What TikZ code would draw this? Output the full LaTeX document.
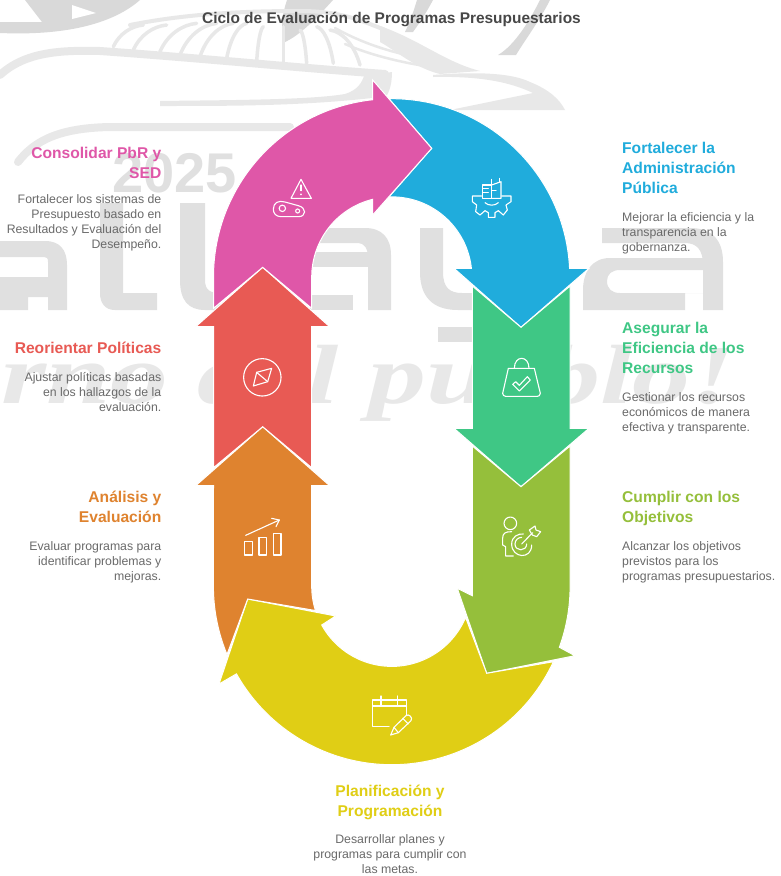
\documentclass[tikz,border=0pt]{standalone}
\usepackage{fontspec}
\setmainfont{Liberation Sans}
\newfontfamily\wmfont[FakeStretch=1.38]{Liberation Serif}
\definecolor{cpink}{HTML}{DF57A8}
\definecolor{cblue}{HTML}{20ACDC}
\definecolor{cgreen}{HTML}{3FC785}
\definecolor{clime}{HTML}{95BF3B}
\definecolor{cyel}{HTML}{E0CE15}
\definecolor{corg}{HTML}{DF832F}
\definecolor{cred}{HTML}{E85A54}
\definecolor{wma}{HTML}{D9D9D9}
\definecolor{wmb}{HTML}{E0E0E0}
\definecolor{wmc}{HTML}{E8E8E8}
\definecolor{deskc}{HTML}{6A6A6A}
\definecolor{titc}{HTML}{474747}
\tikzset{
 band/.style={draw=white,line width=1pt,line join=miter,miter limit=10},
 wmline/.style={draw=wmc,line cap=round},
 icon/.style={draw=white,line width=1.1pt,line cap=round,line join=round},
 zoomA/.style={shift={(190,70)},x=0.33333pt,y=-0.33333pt},
 zoomB/.style={shift={(190,420)},x=0.33333pt,y=-0.33333pt},
 zoomC/.style={shift={(0,140)},x=0.33333pt,y=-0.33333pt},
 zoomD/.style={shift={(380,200)},x=0.33333pt,y=-0.33333pt},
 zoomE/.style={shift={(0,0)},x=0.33333pt,y=-0.33333pt},
 headL/.style={anchor=north east,align=right,inner sep=0pt,font=\fontsize{15.6}{20}\selectfont\bfseries,execute at begin node={\rule{0pt}{14pt}}},
 headR/.style={anchor=north west,align=left,inner sep=0pt,font=\fontsize{15.6}{20}\selectfont\bfseries,execute at begin node={\rule{0pt}{14pt}}},
 headC/.style={anchor=north,align=center,inner sep=0pt,font=\fontsize{15.6}{20}\selectfont\bfseries,execute at begin node={\rule{0pt}{14pt}}},
 descL/.style={anchor=north east,align=right,inner sep=0pt,text=deskc,font=\fontsize{12.3}{15}\selectfont,execute at begin node={\rule{0pt}{11pt}}},
 descR/.style={anchor=north west,align=left,inner sep=0pt,text=deskc,font=\fontsize{12.3}{15}\selectfont,execute at begin node={\rule{0pt}{11pt}}},
 descC/.style={anchor=north,align=center,inner sep=0pt,text=deskc,font=\fontsize{12.3}{15}\selectfont,execute at begin node={\rule{0pt}{11pt}}},
}
\begin{document}
\begin{tikzpicture}[x=1pt,y=-1pt]
\useasboundingbox (0,0) rectangle (780,876);
\fill[white] (0,0) rectangle (780,876);
\begin{scope}
\clip (0,0) rectangle (780,876);
% --- watermark: bird
\fill[wma] (0,22) -- (42,22) -- (25,0) -- (140,0) .. controls (115,22) and (70,36) .. (0,33) -- cycle;
\fill[white] (72,5) -- (96,13) -- (72,19) -- cycle;
\fill[wma] (287,0) -- (333,0) .. controls (315,20) and (300,35) .. (285,42) .. controls (280,30) and (282,15) .. (287,0) -- cycle;
\fill[wma] (417,0) -- (433,0) .. controls (425,15) and (418,25) .. (413,32) -- (405,32) .. controls (410,22) and (414,10) .. (417,0) -- cycle;
\fill[wma] (540,0) -- (550,0) .. controls (540,20) and (525,40) .. (516,55) -- (498,55) .. controls (515,45) and (530,20) .. (540,0) -- cycle;
\draw[wmline,line width=8pt] (0,75) .. controls (25,52) and (60,50) .. (100,51) .. controls (200,58) and (300,68) .. (385,74);
\draw[wmline,line width=4pt] (130,25) .. controls (190,13) and (250,11) .. (300,11) .. controls (340,11) and (360,20) .. (385,30);
\begin{scope}[zoomE]
\foreach \xa/\ya/\xb/\yb in {340/140/430/75,400/150/500/75,480/155/590/70,540/165/650/70,600/170/700/70,680/175/740/70,770/185/790/80,850/190/850/80,920/190/900/90,1000/190/950/80,1080/195/990/90}{
 \draw[wmline,line width=3.5pt] (\xa,\ya) .. controls ({\xa+(\xb-\xa)*0.2},{\ya+(\yb-\ya)*0.6}) and ({\xa+(\xb-\xa)*0.6},{\ya+(\yb-\ya)*0.95}) .. (\xb,\yb);
}
\end{scope}
\draw[wmline,line width=2.5pt] (335,28) .. controls (365,45) and (400,55) .. (425,58);
\draw[wmline,line width=2.5pt] (345,44) .. controls (370,55) and (400,62) .. (425,66);
\fill[wmc] (380,26) .. controls (420,40) and (445,62) .. (480,71) -- (440,74) .. controls (415,68) and (395,50) .. (380,42) -- cycle;
\fill[wmc] (433,75) .. controls (470,72) and (510,72) .. (530,82) .. controls (550,90) and (560,100) .. (565,110) -- (450,110) -- (533,93) .. controls (510,82) and (480,76) .. (433,77) -- cycle;
\fill[wmc] (160,101) .. controls (230,100) and (310,100) .. (345,94) .. controls (358,90) and (362,82) .. (364,76) -- (392,72) .. controls (392,82) and (390,92) .. (385,98) -- (372,98) .. controls (300,106) and (230,106) .. (160,106) -- cycle;
\draw[wmline,line width=8pt] (18,162) .. controls (35,140) and (60,128) .. (110,127) -- (290,127);
% --- watermark: letters
\fill[wmb] (0,241) -- (45,241) .. controls (60,241) and (67,250) .. (67,265) -- (67,310) -- (48,310) -- (48,262) .. controls (48,258) and (47,257) .. (44,257) -- (0,257) -- cycle;
\fill[wmb] (0,277) -- (48,277) -- (48,297) -- (28,297) -- (28,310) -- (0,310) -- cycle;
\fill[wmb] (100,203) -- (123,203) -- (123,293) -- (157,293) -- (157,310) -- (115,310) .. controls (105,310) and (100,303) .. (100,293) -- cycle;
\fill[wmb] (180,203) -- (205,203) -- (205,280) .. controls (205,290) and (210,293) .. (220,293) -- (220,310) -- (205,310) .. controls (188,310) and (180,300) .. (180,280) -- cycle;
\fill[wmb] (315,228) -- (365,228) .. controls (382,228) and (391,238) .. (391,255) -- (391,310) -- (368,310) -- (368,258) .. controls (368,248) and (364,243) .. (358,243) -- (315,243) -- cycle;
\fill[wmb] (310,252) -- (368,252) -- (368,267) -- (310,267) -- cycle;
\fill[wmb] (310,295) -- (353,295) -- (353,310) -- (310,310) -- cycle;
\fill[wmb] (420,228) -- (443,228) -- (443,272) .. controls (443,288) and (450,293) .. (462,293) -- (480,293) -- (480,310) -- (458,310) .. controls (432,310) and (420,296) .. (420,272) -- cycle;
\fill[wmb] (438,327) -- (472,327) -- (472,342) -- (438,342) -- cycle;
\fill[wmb] (602,228) -- (690,228) .. controls (712,228) and (723,240) .. (723,262) -- (723,310) -- (703,310) -- (703,265) .. controls (703,250) and (697,243) .. (685,243) -- (602,243) -- cycle;
\fill[wmb,even odd rule] (703,258) -- (610,258) .. controls (592,258) and (583,272) .. (583,290) -- (583,310) -- (685,310) -- (685,293) -- (703,293) -- cycle (703,270) -- (620,270) .. controls (612,270) and (607,274) .. (607,281) .. controls (607,289) and (612,293) .. (620,293) -- (703,293) -- cycle;
\node[anchor=base west,inner sep=0pt,text=wmb,font={\fontsize{56}{56}\selectfont\bfseries}] (wmyear) at (112,192) {2025};
\node[anchor=base west,inner sep=0pt,text=wmc,font={\wmfont\fontsize{84}{84}\selectfont\bfseries\itshape}] (wmmotto) at (1,403) {rno del pueblo!};
\end{scope}
% --- bands
\path[band,fill=cblue] (389,98.7) arc[start angle=269.2,end angle=357.2,radius=178.3] -- (589,268.3) -- (521,327.3) -- (454,268.3) -- (471.4,268.3) arc[start angle=353.8,end angle=270,radius=80.1] -- (389,196.9) -- (431.7,148.3) -- cycle;
\path[band,fill=cgreen] (472.3,286) -- (521,327.3) -- (570.1,286) -- (570.1,428.3) -- (589,428.3) -- (521,486.7) -- (454,428.3) -- (472.3,428.3) -- cycle;
\path[band,fill=clime] (472.3,446) -- (521,486.7) -- (570.1,446) -- (570.1,586.3) arc[start angle=0,end angle=20,radius=178.3] -- (575,655.7) -- (486.7,673.3) -- (457.3,588.3) -- (472.3,595.7) -- cycle;
\path[band,fill=cyel] (247.7,599) -- (335.7,616) -- (321.7,625) arc[start angle=151.1,end angle=22.9,radius=80.1] -- (486.7,673.3) -- (553.4,661.7) arc[start angle=25,end angle=150.6,radius=178.3] -- (219,684) -- cycle;
\path[band,fill=corg] (262.7,426.7) -- (329.7,485.7) -- (311.7,485.7) -- (311.7,586.3) arc[start angle=180,end angle=162.4,radius=80.1] -- (247.7,599) -- (227,654.5) arc[start angle=157.5,end angle=180,radius=178.3] -- (213.5,485.7) -- (195.7,485.7) -- cycle;
\path[band,fill=cred] (262.7,267.3) -- (329.7,326.7) -- (311.7,326.7) -- (311.7,467.7) -- (262.7,426.7) -- (213.5,467.7) -- (213.5,326.7) -- (195.7,326.7) -- cycle;
\path[band,fill=cpink] (213.5,308.3) -- (213.5,277) arc[start angle=180,end angle=263.85,radius=178.3] -- (372.7,80) -- (431.7,148.3) -- (372.7,215) -- (372.7,199.3) arc[start angle=256.2,end angle=180,radius=80.1] -- (311.7,308.3) -- (262.7,267.3) -- cycle;
% --- icons
\begin{scope}[zoomA]
\draw[icon] (333,328) -- (303,385) -- (364,385) -- cycle;
\draw[icon] (333,345) -- (333,362);
\fill[white] (333,373) circle[radius=1pt];
\draw[icon] (250,418) .. controls (250,398) and (265,390) .. (285,396) -- (325,407) .. controls (350,413) and (350,440) .. (325,440) -- (273,440) .. controls (258,440) and (250,430) .. (250,418) -- cycle;
\draw[icon] (277,415) circle[radius=3.2pt];
\draw[icon] (323,423) circle[radius=2pt];
\draw[icon] (877,385) -- (877,345) -- (905,345) -- (905,385) -- cycle;
\draw[icon] (905,385) -- (933,385) -- (933,335) -- (905,345);
\draw[icon] (905,345) -- (905,328) (928,335) -- (928,325);
\draw[icon] (880,355) -- (895,355) (880,368) -- (895,368) (905,362) -- (918,362);
\draw[icon] (875,378) -- (847,378) -- (847,395) -- (860,405) -- (857,425) -- (870,435) -- (885,422) -- (895,428) -- (895,442) -- (915,442) -- (915,428) -- (925,422) -- (940,435) -- (952,420) -- (948,405) -- (963,395) -- (963,378) -- (935,378);
\draw[icon] (885,398) .. controls (895,408) and (915,408) .. (925,398);
\end{scope}
\begin{scope}[zoomC]
\draw[icon] (787,712) circle[radius=18.7pt];
\draw[icon] (770,697) -- (815,685) -- (803,725) -- (760,738) -- cycle;
\draw[icon] (770,697) -- (803,725);
\end{scope}
\begin{scope}[zoomD]
\draw[icon] (403,505) .. controls (403,465) and (447,465) .. (447,505);
\draw[icon] (385,505) -- (463,505) -- (481,580) .. controls (481,587) and (475,589) .. (472,589) -- (377,589) .. controls (372,589) and (368,585) .. (368,580) -- cycle;
\draw[icon] (398,553) -- (407,545) -- (418,556) -- (442,530) -- (451,540) -- (418,573) -- cycle;
\end{scope}
\begin{scope}[zoomB]
\draw[icon] (961,310) circle[radius=6.3pt];
\draw[icon] (965,335) .. controls (945,335) and (938,340) .. (938,355) -- (938,375) -- (947,380) -- (947,408) -- (970,408);
\draw[icon] (1025,375) .. controls (1025,420) and (965,415) .. (965,372) .. controls (965,350) and (985,340) .. (1000,342);
\draw[icon] (1010,372) .. controls (1010,395) and (975,395) .. (975,372) .. controls (975,360) and (985,352) .. (995,352);
\draw[icon] (995,372) -- (1028,338);
\draw[icon] (1018,330) -- (1035,318) -- (1038,330) -- (1052,335) -- (1040,350) -- (1027,345) -- cycle;
\draw[icon] (163,365) rectangle (187,405);
\draw[icon] (207,352) rectangle (230,405);
\draw[icon] (250,340) rectangle (273,405);
\draw[icon] (167,346) -- (268,300);
\draw[icon] (245,295) -- (268,300) -- (258,320);
\draw[icon] (597,920) -- (548,920) -- (548,840) -- (650,840) -- (650,885);
\draw[icon] (548,858) -- (650,858);
\draw[icon] (573,828) -- (573,855) (622,828) -- (622,855);
\draw[icon] (602,945) -- (612,922) -- (648,887) .. controls (655,880) and (670,892) .. (663,902) -- (625,938) -- cycle;
\draw[icon] (612,922) -- (625,938) (638,895) -- (655,912);
\end{scope}
% --- text
\node[anchor=center,inner sep=0pt,text=titc,font=\fontsize{15.45}{18}\selectfont\bfseries] (title) at (391.5,19.5) {Ciclo de Evaluación de Programas Presupuestarios};
\node[headL,text=cpink] (t1) at (161.5,147) {Consolidar PbR y\\SED};
\node[descL] (d1) at (161.5,194) {Fortalecer los sistemas de\\Presupuesto basado en\\Resultados y Evaluación del\\Desempeño.};
\node[headL,text=cred] (t2) at (161.5,339) {Reorientar Políticas};
\node[descL] (d2) at (161.5,372) {Ajustar políticas basadas\\en los hallazgos de la\\evaluación.};
\node[headL,text=corg] (t3) at (161.5,491) {Análisis y\\Evaluación};
\node[descL] (d3) at (161.5,541) {Evaluar programas para\\identificar problemas y\\mejoras.};
\node[headR,text=cblue] (t4) at (622,142) {Fortalecer la\\Administración\\Pública};
\node[descR] (d4) at (622,212) {Mejorar la eficiencia y la\\transparencia en la\\gobernanza.};
\node[headR,text=cgreen] (t5) at (622,322) {Asegurar la\\Eficiencia de los\\Recursos};
\node[descR] (d5) at (622,392) {Gestionar los recursos\\económicos de manera\\efectiva y transparente.};
\node[headR,text=clime] (t6) at (622,491) {Cumplir con los\\Objetivos};
\node[descR] (d6) at (622,541) {Alcanzar los objetivos\\previstos para los\\programas presupuestarios.};
\node[headC,text=cyel] (t7) at (390,785) {Planificación y\\Programación};
\node[descC] (d7) at (390,834) {Desarrollar planes y\\programas para cumplir con\\las metas.};
\end{tikzpicture}
\end{document}
